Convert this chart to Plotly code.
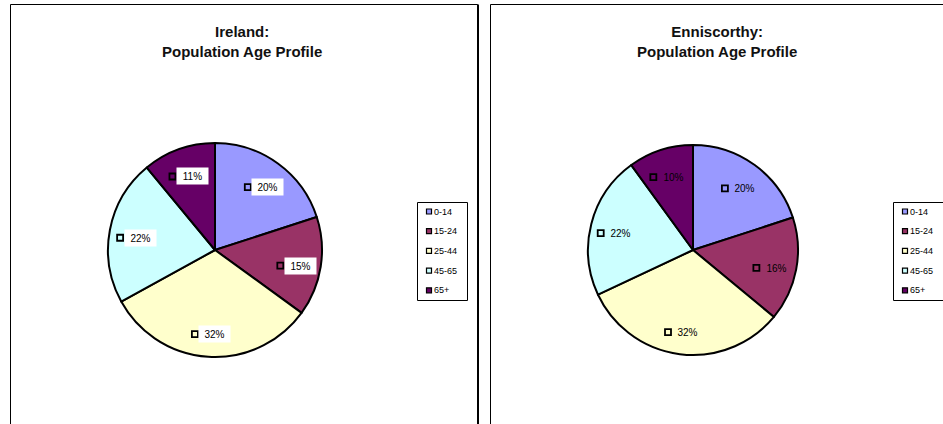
import math
import plotly.graph_objects as go

W, H = 943, 424

age_groups = ["0-14", "15-24", "25-44", "45-65", "65+"]
ireland_pct = [20, 15, 32, 22, 11]
enniscorthy_pct = [20, 16, 32, 22, 10]
slice_colors = ["#9999FF", "#993366", "#FFFFCC", "#CCFFFF", "#660066"]
titles = ["Ireland:<br>Population Age Profile", "Enniscorthy:<br>Population Age Profile"]

FONT = "Liberation Sans, Arial, sans-serif"


def px(x):
    return x / W


def py(y):
    return 1 - y / H


# panel layout (pixels)
panels = [
    dict(values=ireland_pct, cx=215, cy=250, r=107, title_x=242, legend_x=417, boxed=True),
    dict(values=enniscorthy_pct, cx=693, cy=250, r=105, title_x=717, legend_x=893, boxed=False),
]

fig = go.Figure()
annotations = []
shapes = []

# panel frames
shapes.append(dict(type="rect", xref="paper", yref="paper", x0=px(10.5), x1=px(477.5),
                   y0=py(430), y1=py(4.5), line=dict(color="black", width=1), layer="below"))
shapes.append(dict(type="line", xref="paper", yref="paper", x0=px(478), x1=px(478),
                   y0=py(430), y1=py(4.5), line=dict(color="black", width=2)))
shapes.append(dict(type="rect", xref="paper", yref="paper", x0=px(490.5), x1=px(960),
                   y0=py(430), y1=py(4.5), line=dict(color="black", width=1), layer="below"))

for i, p in enumerate(panels):
    cx, cy, r = p["cx"], p["cy"], p["r"]
    fig.add_trace(go.Pie(
        labels=age_groups,
        values=p["values"],
        sort=False,
        direction="clockwise",
        rotation=0,
        marker=dict(colors=slice_colors, line=dict(color="black", width=2)),
        textinfo="none",
        hoverinfo="label+percent",
        showlegend=False,
        domain=dict(x=[px(cx - r), px(cx + r)], y=[py(cy + r), py(cy - r)]),
    ))

    # title
    annotations.append(dict(
        x=px(p["title_x"]), y=py(41.5), xref="paper", yref="paper",
        text="<b>" + titles[i] + "</b>", showarrow=False,
        font=dict(family=FONT, size=15, color="#111111"),
        xanchor="center", yanchor="middle",
    ))

    # data labels
    total = sum(p["values"])
    cum = 0
    for j, v in enumerate(p["values"]):
        mid = (cum + v / 2) / total * 2 * math.pi
        cum += v
        lx = cx + 0.76 * r * math.sin(mid)
        ly = cy - 0.76 * r * math.cos(mid) + 3
        pct = round(v / total * 100)
        annotations.append(dict(
            x=px(lx + 5), y=py(ly), xref="paper", yref="paper",
            text=f"{pct}%", showarrow=False,
            font=dict(family=FONT, size=10, color="black"),
            bgcolor="white" if p["boxed"] else "rgba(0,0,0,0)",
            width=28, height=13, borderpad=1.5, align="center",
            xanchor="center", yanchor="middle",
        ))
        kx = lx - 15
        shapes.append(dict(type="rect", xref="paper", yref="paper",
                           x0=px(kx - 3), x1=px(kx + 3), y0=py(ly + 3), y1=py(ly - 3),
                           fillcolor=slice_colors[j], line=dict(color="black", width=1.8)))

    # legend
    lx0 = p["legend_x"]
    shapes.append(dict(type="rect", xref="paper", yref="paper",
                       x0=px(lx0 + 0.5), x1=px(lx0 + 50.5), y0=py(300.5), y1=py(202.5),
                       fillcolor="white", line=dict(color="black", width=1)))
    for j, name in enumerate(age_groups):
        iy = 211.5 + j * 19.7
        shapes.append(dict(type="rect", xref="paper", yref="paper",
                           x0=px(lx0 + 9.5), x1=px(lx0 + 14.5), y0=py(iy + 2.5), y1=py(iy - 2.5),
                           fillcolor=slice_colors[j], line=dict(color="black", width=1.2)))
        annotations.append(dict(
            x=px(lx0 + 14.5), y=py(iy), xref="paper", yref="paper",
            text=name, showarrow=False,
            font=dict(family=FONT, size=9, color="black"),
            xanchor="left", yanchor="middle",
        ))

fig.update_layout(
    width=W, height=H,
    margin=dict(l=0, r=0, t=0, b=0),
    paper_bgcolor="white",
    plot_bgcolor="white",
    annotations=annotations,
    shapes=shapes,
    showlegend=False,
)

fig.write_html("out.html",
               config={"displayModeBar": False},
               post_script="document.body.style.margin='0';document.body.style.overflow='hidden';")
